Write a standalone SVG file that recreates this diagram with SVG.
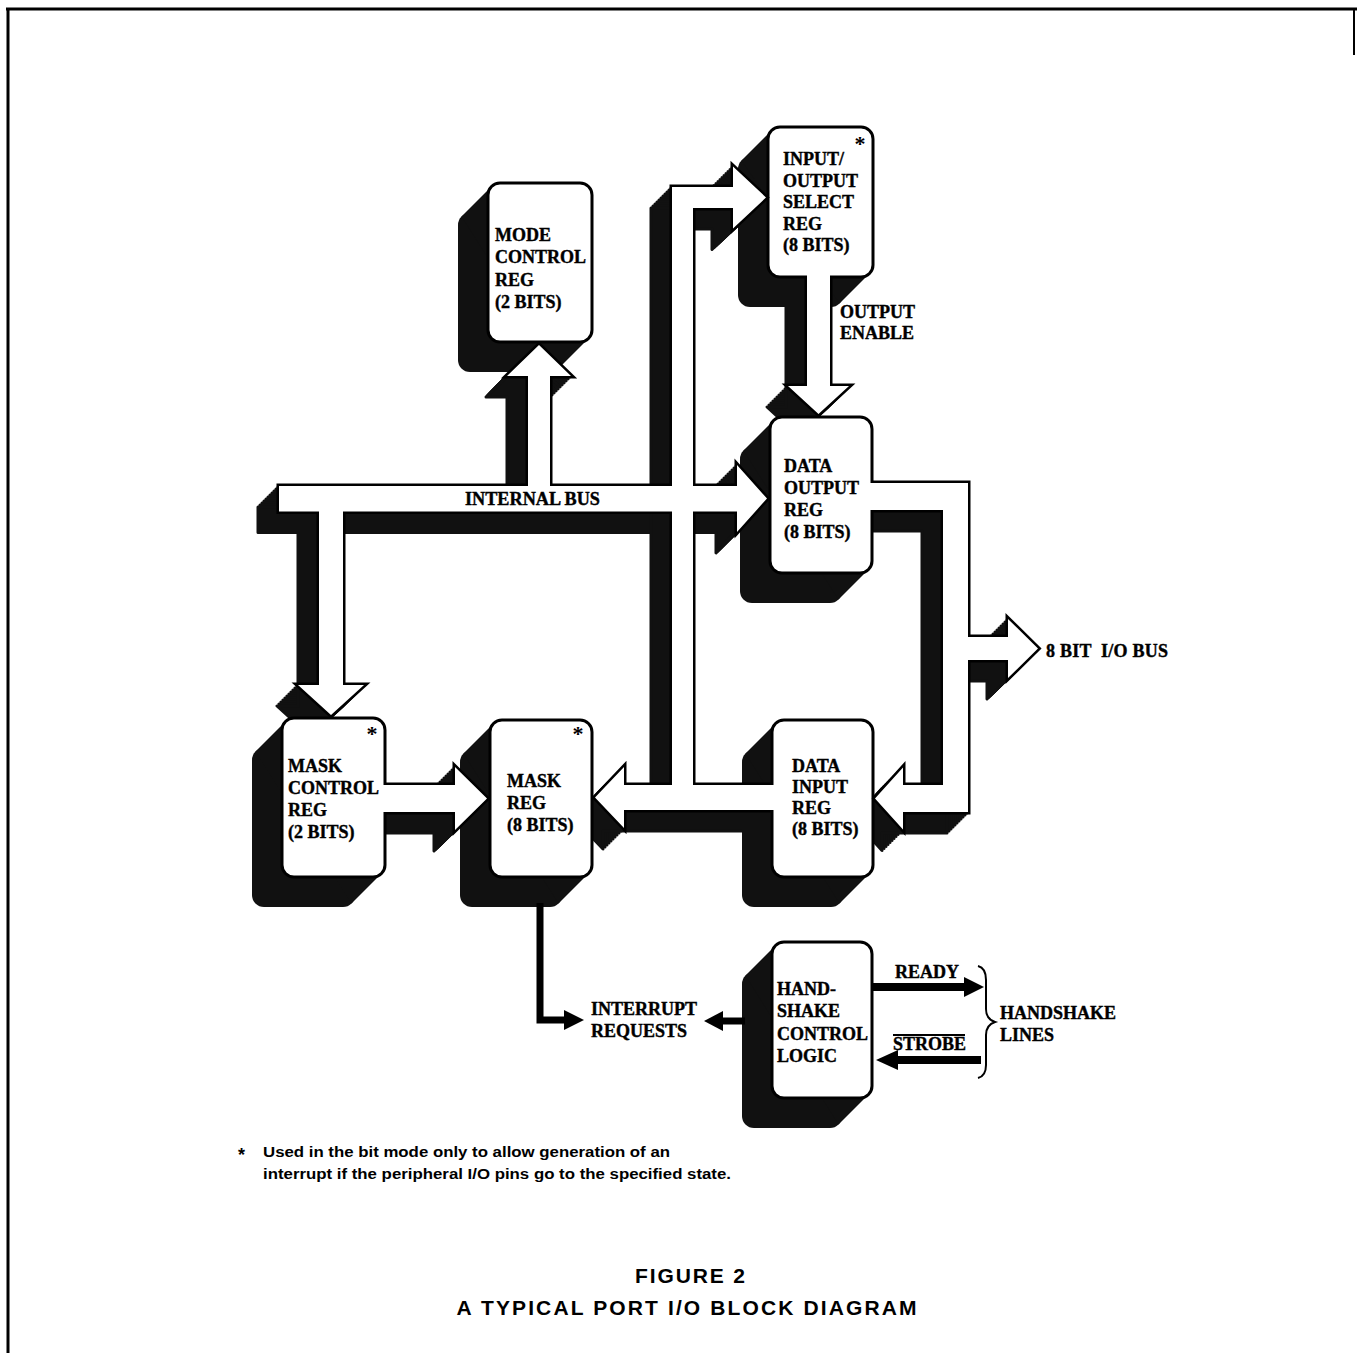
<svg xmlns="http://www.w3.org/2000/svg" xmlns:xlink="http://www.w3.org/1999/xlink" width="1357" height="1353" viewBox="0 0 1357 1353">
<style>
.bg { fill:#fff; }
.frame { fill:none; stroke:#000; stroke-width:3; }
.sh { fill:#111; stroke:#111; stroke-width:3; stroke-linejoin:round; }
.bsh { fill:#111; stroke:none; }
.ol { fill:none; stroke:#000; stroke-width:5; stroke-linejoin:miter; }
.wf { fill:#fff; stroke:none; }
.box { fill:#fff; stroke:#000; stroke-width:3; }
.t { font-family:"Liberation Serif","Times New Roman",serif; font-weight:bold; font-size:18px; fill:#000; stroke:#000; stroke-width:0.4; }
.ast { font-family:"Liberation Serif","Times New Roman",serif; font-weight:bold; font-size:22px; fill:#000; text-anchor:middle; }
.fn { font-family:"Liberation Sans",Arial,sans-serif; font-weight:bold; font-size:14.5px; fill:#000; }
.fa { font-family:"Liberation Sans",Arial,sans-serif; font-weight:bold; font-size:18px; fill:#000; }
.ti { font-family:"Liberation Sans",Arial,sans-serif; font-weight:bold; font-size:21px; fill:#000; text-anchor:middle; }
.ln { fill:none; stroke:#000; stroke-width:7; }
.lnb { fill:none; stroke:#000; stroke-width:8; }
.hd { fill:#000; stroke:none; }
.thin { fill:none; stroke:#000; stroke-width:2; }
</style>
<defs>
  <g id="busFills">
    <path d="M279 486 L528 486 L528 376 L507 376 L539 345 L571 376 L550 376 L550 486 L737 486 L737 465 L767 498.5 L737 532 L737 511.5 L343 511.5 L343 685 L364 685 L331 715 L298 685 L319 685 L319 511.5 L279 511.5 Z"/>
    <path d="M775 810 L624 810 L624 828 L595 797.5 L624 767 L624 785 L672 785 L672 187 L733 187 L733 166.5 L766 197.5 L733 228.5 L733 208 L693 208 L693 785 L775 785 Z"/>
    <path d="M869 483 L968 483 L968 637 L1008 637 L1008 619 L1038 648.5 L1008 678 L1008 660 L968 660 L968 812 L903 812 L903 829.5 L875 798.5 L903 767.5 L903 785 L943 785 L943 510 L869 510 Z"/>
    <path d="M807 274 L830 274 L830 386 L849 386 L818.5 414 L788 386 L807 386 Z"/>
    <path d="M382 785 L455 785 L455 767 L487 798.5 L455 830 L455 812 L382 812 Z"/>
  </g>
  <g id="busOutlines">
    <path d="M279 486 L528 486 L528 376 L507 376 L539 345 L571 376 L550 376 L550 486 L737 486 L737 465 L767 498.5 L737 532 L737 511.5 L343 511.5 L343 685 L364 685 L331 715 L298 685 L319 685 L319 511.5 L279 511.5 Z"/>
    <path d="M772 810 L624 810 L624 828 L595 797.5 L624 767 L624 785 L672 785 L672 187 L733 187 L733 166.5 L766 197.5 L733 228.5 L733 208 L693 208 L693 785 L772 785"/>
    <path d="M872 483 L968 483 L968 637 L1008 637 L1008 619 L1038 648.5 L1008 678 L1008 660 L968 660 L968 812 L903 812 L903 829.5 L875 798.5 L903 767.5 L903 785 L943 785 L943 510 L872 510"/>
    <path d="M830 277 L830 386 L849 386 L818.5 414 L788 386 L807 386 L807 277"/>
    <path d="M385 785 L455 785 L455 767 L487 798.5 L455 830 L455 812 L385 812"/>
  </g>
</defs>

<rect class="bg" x="0" y="0" width="1357" height="1353"/>
<g id="frame" class="frame">
  <path d="M6 9 L1357 9"/>
  <path d="M8 9 L8 1353"/>
  <path d="M1354 9 L1354 55" stroke-width="2"/>
</g>

<g id="shadows">
  <g class="sh">
    <use href="#busFills" transform="translate(-1 1)"/>
    <use href="#busFills" transform="translate(-3 3)"/>
    <use href="#busFills" transform="translate(-5 5)"/>
    <use href="#busFills" transform="translate(-7 7)"/>
    <use href="#busFills" transform="translate(-9 9)"/>
    <use href="#busFills" transform="translate(-11 11)"/>
    <use href="#busFills" transform="translate(-13 13)"/>
    <use href="#busFills" transform="translate(-15 15)"/>
    <use href="#busFills" transform="translate(-17 17)"/>
    <use href="#busFills" transform="translate(-19 19)"/>
    <use href="#busFills" transform="translate(-21 21)"/>
  </g>
  <g class="bsh">
    <rect x="458" y="213" width="104" height="159" rx="12"/>
    <polygon points="491.5,186.5 588.5,338.5 558.5,368.5 461.5,216.5"/>
    <rect x="738" y="157" width="105" height="150" rx="12"/>
    <polygon points="771.5,130.5 869.5,273.5 839.5,303.5 741.5,160.5"/>
    <rect x="740" y="447" width="102" height="156" rx="12"/>
    <polygon points="773.5,420.5 868.5,569.5 838.5,599.5 743.5,450.5"/>
    <rect x="252" y="748" width="103" height="159" rx="12"/>
    <polygon points="285.5,721.5 381.5,873.5 351.5,903.5 255.5,751.5"/>
    <rect x="460" y="750" width="102" height="157" rx="12"/>
    <polygon points="493.5,723.5 588.5,873.5 558.5,903.5 463.5,753.5"/>
    <rect x="742" y="750" width="101" height="157" rx="12"/>
    <polygon points="775.5,723.5 869.5,873.5 839.5,903.5 745.5,753.5"/>
    <rect x="742" y="972" width="100" height="156" rx="12"/>
    <polygon points="775.5,945.5 868.5,1094.5 838.5,1124.5 745.5,975.5"/>
  </g>
</g>

<g id="node-mode-control">
  <rect class="box" x="488" y="183" width="104" height="159" rx="12"/>
  <text class="t" x="495" y="241">MODE</text>
  <text class="t" x="495" y="263">CONTROL</text>
  <text class="t" x="495" y="286">REG</text>
  <text class="t" x="495" y="308">(2 BITS)</text>
</g>
<g id="node-io-select">
  <rect class="box" x="768" y="127" width="105" height="150" rx="12"/>
  <text class="ast" x="860" y="151">*</text>
  <text class="t" x="783" y="165">INPUT/</text>
  <text class="t" x="783" y="187">OUTPUT</text>
  <text class="t" x="783" y="208">SELECT</text>
  <text class="t" x="783" y="230">REG</text>
  <text class="t" x="783" y="251">(8 BITS)</text>
</g>
<g id="node-data-output">
  <rect class="box" x="770" y="417" width="102" height="156" rx="12"/>
  <text class="t" x="784" y="472">DATA</text>
  <text class="t" x="784" y="494">OUTPUT</text>
  <text class="t" x="784" y="516">REG</text>
  <text class="t" x="784" y="538">(8 BITS)</text>
</g>
<g id="node-mask-control">
  <rect class="box" x="282" y="718" width="103" height="159" rx="12"/>
  <text class="ast" x="372" y="741">*</text>
  <text class="t" x="288" y="772">MASK</text>
  <text class="t" x="288" y="794">CONTROL</text>
  <text class="t" x="288" y="816">REG</text>
  <text class="t" x="288" y="838">(2 BITS)</text>
</g>
<g id="node-mask">
  <rect class="box" x="490" y="720" width="102" height="157" rx="12"/>
  <text class="ast" x="578" y="741">*</text>
  <text class="t" x="507" y="787">MASK</text>
  <text class="t" x="507" y="809">REG</text>
  <text class="t" x="507" y="831">(8 BITS)</text>
</g>
<g id="node-data-input">
  <rect class="box" x="772" y="720" width="101" height="157" rx="12"/>
  <text class="t" x="792" y="772">DATA</text>
  <text class="t" x="792" y="793">INPUT</text>
  <text class="t" x="792" y="814">REG</text>
  <text class="t" x="792" y="835">(8 BITS)</text>
</g>
<g id="node-handshake">
  <rect class="box" x="772" y="942" width="100" height="156" rx="12"/>
  <text class="t" x="777" y="995">HAND-</text>
  <text class="t" x="777" y="1017">SHAKE</text>
  <text class="t" x="777" y="1040">CONTROL</text>
  <text class="t" x="777" y="1062">LOGIC</text>
</g>

<g id="connectors">
  <g class="ol"><use href="#busOutlines"/></g>
  <g class="wf"><use href="#busFills"/></g>
  <path class="ln" d="M540 903 L540 1020 L566 1020"/>
  <polygon class="hd" points="564,1010 584,1020 564,1030"/>
  <path class="ln" d="M745 1021 L721 1021"/>
  <polygon class="hd" points="723,1011 704,1021 723,1031"/>
  <path class="lnb" d="M872 987 L966 987"/>
  <polygon class="hd" points="964,977 984,987 964,997"/>
  <path class="lnb" d="M981 1060 L896 1060"/>
  <polygon class="hd" points="898,1050 876,1060 898,1070"/>
  <path class="thin" d="M978 966 Q986 968 986 980 L986 1009 Q986 1019 995 1022 Q986 1025 986 1035 L986 1065 Q986 1076 978 1078"/>
</g>

<g id="labels">
  <text class="t" x="465" y="505" textLength="135" lengthAdjust="spacingAndGlyphs">INTERNAL BUS</text>
  <text class="t" x="840" y="318">OUTPUT</text>
  <text class="t" x="840" y="339">ENABLE</text>
  <text class="t" x="1046" y="657" textLength="122">8 BIT&#160; I/O BUS</text>
  <text class="t" x="895" y="978">READY</text>
  <text class="t" x="893" y="1050">STROBE</text>
  <path class="thin" d="M893 1035 L965 1035" stroke-width="1.5"/>
  <text class="t" x="1000" y="1019">HANDSHAKE</text>
  <text class="t" x="1000" y="1041">LINES</text>
  <text class="t" x="591" y="1015">INTERRUPT</text>
  <text class="t" x="591" y="1037">REQUESTS</text>
  <text class="fa" x="238" y="1161">*</text>
  <text class="fn" x="263" y="1157" textLength="407" lengthAdjust="spacingAndGlyphs">Used in the bit mode only to allow generation of an</text>
  <text class="fn" x="263" y="1179" textLength="468" lengthAdjust="spacingAndGlyphs">interrupt if the peripheral I/O pins go to the specified state.</text>
  <text class="ti" x="690" y="1283" textLength="110">FIGURE 2</text>
  <text class="ti" x="686.5" y="1315" textLength="460">A TYPICAL PORT I/O BLOCK DIAGRAM</text>
</g>
</svg>
